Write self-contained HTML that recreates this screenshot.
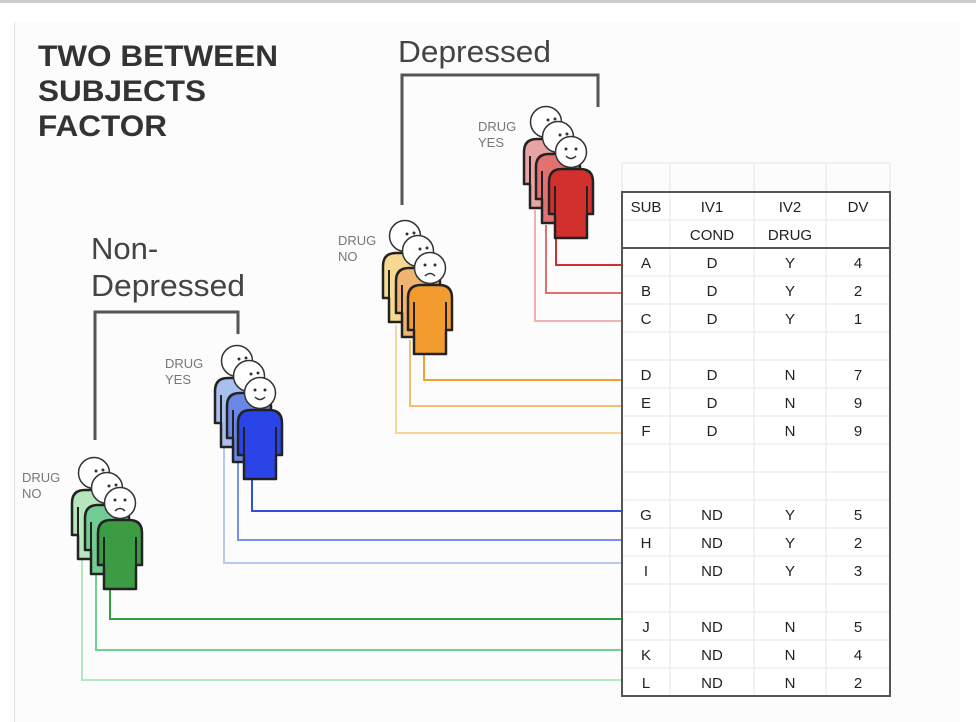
<!DOCTYPE html>
<html><head><meta charset="utf-8"><style>
html,body{margin:0;padding:0;background:#fff;}
svg{display:block;font-family:"Liberation Sans",Arial,sans-serif;}
</style></head><body>
<svg width="976" height="722" viewBox="0 0 976 722" xmlns="http://www.w3.org/2000/svg">
<defs>
<g id="body">
<path d="M-22,62 L-22,30 Q-22,17 -9,17 L9,17 Q22,17 22,30 L22,62 L16,62 L16,86 L-16,86 L-16,62 Z" stroke="#222" stroke-width="2.5" stroke-linejoin="round"/>
<path d="M-16,34 L-16,62 M16,34 L16,62" stroke="#222" stroke-width="2" fill="none"/>
</g>
<g id="head"><circle r="15.5" fill="#fff" stroke="#333" stroke-width="1.5"/></g>
</defs>
<rect x="0" y="0" width="976" height="3" fill="#ccc"/>
<rect x="15" y="22" width="945" height="700" fill="#fcfcfc"/>
<line x1="14.5" y1="22" x2="14.5" y2="722" stroke="#e2e2e2"/>
<g font-weight="bold" font-size="30" fill="#333">
<text x="38" y="66" textLength="240" lengthAdjust="spacingAndGlyphs">TWO BETWEEN</text>
<text x="38" y="101" textLength="168" lengthAdjust="spacingAndGlyphs">SUBJECTS</text>
<text x="38" y="136" textLength="129" lengthAdjust="spacingAndGlyphs">FACTOR</text>
</g>
<g font-size="31" fill="#444">
<text x="398" y="62" textLength="153" lengthAdjust="spacingAndGlyphs">Depressed</text>
<text x="91" y="259">Non-</text>
<text x="91" y="296" textLength="154" lengthAdjust="spacingAndGlyphs">Depressed</text>
</g>
<g fill="none" stroke="#555" stroke-width="3">
<path d="M402,205 L402,75 L598,75 L598,107"/>
<path d="M95,440 L95,312 L238,312 L238,334"/>
</g>
<g font-size="13" fill="#777">
<text x="478" y="131">DRUG</text><text x="478" y="147">YES</text>
<text x="338" y="245">DRUG</text><text x="338" y="261">NO</text>
<text x="165" y="368">DRUG</text><text x="165" y="384">YES</text>
<text x="22" y="482">DRUG</text><text x="22" y="498">NO</text>
</g>
<g fill="none" stroke-width="2">
<path d="M556,238 L556,265 L622,265" stroke="#d03030"/>
<path d="M546,225 L546,293 L622,293" stroke="#e07070"/>
<path d="M535,210 L535,321 L622,321" stroke="#f2b0b0"/>
<path d="M424,352 L424,380 L622,380" stroke="#f0a030"/>
<path d="M410,340 L410,406 L622,406" stroke="#f3be70"/>
<path d="M396,325 L396,433 L622,433" stroke="#f7d49a"/>
<path d="M252,476 L252,511 L622,511" stroke="#3050e0"/>
<path d="M238,462 L238,540 L622,540" stroke="#7890ee"/>
<path d="M224,448 L224,563 L622,563" stroke="#b8c8f5"/>
<path d="M110,588 L110,619 L622,619" stroke="#30a040"/>
<path d="M96,575 L96,650 L622,650" stroke="#70d090"/>
<path d="M82,560 L82,680 L622,680" stroke="#b0e8c0"/>
</g>
<g>
<g transform="translate(546,122)"><use href="#body" fill="#eaa3a3"/></g>
<g transform="translate(546,122)"><use href="#head"/><circle cx="2" cy="-2" r="1.5" fill="#333"/><circle cx="9" cy="-3" r="1.5" fill="#333"/></g>
<g transform="translate(558,137)"><use href="#body" fill="#e27272"/></g>
<g transform="translate(558,137)"><use href="#head"/><circle cx="2" cy="-2" r="1.5" fill="#333"/><circle cx="9" cy="-3" r="1.5" fill="#333"/></g>
<g transform="translate(571,152)"><use href="#body" fill="#d2302c"/><use href="#head"/><circle cx="-5" cy="-3" r="1.5" fill="#333"/><circle cx="5" cy="-3" r="1.5" fill="#333"/><path d="M-5,4 Q0,9 5,4" fill="none" stroke="#333" stroke-width="1.5"/></g>
<g transform="translate(405,236)"><use href="#body" fill="#f6da92"/></g>
<g transform="translate(405,236)"><use href="#head"/><circle cx="2" cy="-2" r="1.5" fill="#333"/><circle cx="9" cy="-3" r="1.5" fill="#333"/></g>
<g transform="translate(418,251)"><use href="#body" fill="#f0b472"/></g>
<g transform="translate(418,251)"><use href="#head"/><circle cx="2" cy="-2" r="1.5" fill="#333"/><circle cx="9" cy="-3" r="1.5" fill="#333"/></g>
<g transform="translate(430,268)"><use href="#body" fill="#f29c30"/><use href="#head"/><circle cx="-5" cy="-3" r="1.5" fill="#333"/><circle cx="5" cy="-3" r="1.5" fill="#333"/><path d="M-5,8 Q0,3 5,8" fill="none" stroke="#333" stroke-width="1.5"/></g>
<g transform="translate(237,361)"><use href="#body" fill="#a9c0ee"/></g>
<g transform="translate(237,361)"><use href="#head"/><circle cx="2" cy="-2" r="1.5" fill="#333"/><circle cx="9" cy="-3" r="1.5" fill="#333"/></g>
<g transform="translate(249,376)"><use href="#body" fill="#6a86e6"/></g>
<g transform="translate(249,376)"><use href="#head"/><circle cx="2" cy="-2" r="1.5" fill="#333"/><circle cx="9" cy="-3" r="1.5" fill="#333"/></g>
<g transform="translate(260,393)"><use href="#body" fill="#2a44e8"/><use href="#head"/><circle cx="-5" cy="-3" r="1.5" fill="#333"/><circle cx="5" cy="-3" r="1.5" fill="#333"/><path d="M-5,4 Q0,9 5,4" fill="none" stroke="#333" stroke-width="1.5"/></g>
<g transform="translate(94,473)"><use href="#body" fill="#b6e6bc"/></g>
<g transform="translate(94,473)"><use href="#head"/><circle cx="2" cy="-2" r="1.5" fill="#333"/><circle cx="9" cy="-3" r="1.5" fill="#333"/></g>
<g transform="translate(107,488)"><use href="#body" fill="#72cc92"/></g>
<g transform="translate(107,488)"><use href="#head"/><circle cx="2" cy="-2" r="1.5" fill="#333"/><circle cx="9" cy="-3" r="1.5" fill="#333"/></g>
<g transform="translate(120,503)"><use href="#body" fill="#3c9c44"/><use href="#head"/><circle cx="-5" cy="-3" r="1.5" fill="#333"/><circle cx="5" cy="-3" r="1.5" fill="#333"/><path d="M-5,8 Q0,3 5,8" fill="none" stroke="#333" stroke-width="1.5"/></g>
</g>
<rect x="622" y="192" width="268" height="504" fill="#fff"/>
<g stroke="#e4e4e4" stroke-width="1">
<line x1="622" y1="163" x2="890" y2="163"/>
<line x1="622" y1="163" x2="622" y2="192"/>
<line x1="890" y1="163" x2="890" y2="192"/>
<line x1="670" y1="163" x2="670" y2="696"/>
<line x1="754" y1="163" x2="754" y2="696"/>
<line x1="826" y1="163" x2="826" y2="696"/>
<line x1="622" y1="220" x2="890" y2="220"/>
</g>
<g stroke="#e4e4e4">
<line x1="622" y1="276" x2="890" y2="276"/><line x1="622" y1="304" x2="890" y2="304"/>
<line x1="622" y1="332" x2="890" y2="332"/><line x1="622" y1="360" x2="890" y2="360"/>
<line x1="622" y1="388" x2="890" y2="388"/><line x1="622" y1="416" x2="890" y2="416"/>
<line x1="622" y1="444" x2="890" y2="444"/><line x1="622" y1="472" x2="890" y2="472"/>
<line x1="622" y1="500" x2="890" y2="500"/><line x1="622" y1="528" x2="890" y2="528"/>
<line x1="622" y1="556" x2="890" y2="556"/><line x1="622" y1="584" x2="890" y2="584"/>
<line x1="622" y1="612" x2="890" y2="612"/><line x1="622" y1="640" x2="890" y2="640"/>
<line x1="622" y1="668" x2="890" y2="668"/>
</g>
<rect x="622" y="192" width="268" height="504" fill="none" stroke="#555" stroke-width="2"/>
<line x1="622" y1="248" x2="890" y2="248" stroke="#555" stroke-width="2"/>
<g font-size="15" fill="#222" text-anchor="middle">
<text x="646" y="212">SUB</text><text x="712" y="212">IV1</text><text x="790" y="212">IV2</text><text x="858" y="212">DV</text>
<text x="712" y="240">COND</text><text x="790" y="240">DRUG</text>
<text x="646" y="268">A</text><text x="712" y="268">D</text><text x="790" y="268">Y</text><text x="858" y="268">4</text>
<text x="646" y="296">B</text><text x="712" y="296">D</text><text x="790" y="296">Y</text><text x="858" y="296">2</text>
<text x="646" y="324">C</text><text x="712" y="324">D</text><text x="790" y="324">Y</text><text x="858" y="324">1</text>
<text x="646" y="380">D</text><text x="712" y="380">D</text><text x="790" y="380">N</text><text x="858" y="380">7</text>
<text x="646" y="408">E</text><text x="712" y="408">D</text><text x="790" y="408">N</text><text x="858" y="408">9</text>
<text x="646" y="436">F</text><text x="712" y="436">D</text><text x="790" y="436">N</text><text x="858" y="436">9</text>
<text x="646" y="520">G</text><text x="712" y="520">ND</text><text x="790" y="520">Y</text><text x="858" y="520">5</text>
<text x="646" y="548">H</text><text x="712" y="548">ND</text><text x="790" y="548">Y</text><text x="858" y="548">2</text>
<text x="646" y="576">I</text><text x="712" y="576">ND</text><text x="790" y="576">Y</text><text x="858" y="576">3</text>
<text x="646" y="632">J</text><text x="712" y="632">ND</text><text x="790" y="632">N</text><text x="858" y="632">5</text>
<text x="646" y="660">K</text><text x="712" y="660">ND</text><text x="790" y="660">N</text><text x="858" y="660">4</text>
<text x="646" y="688">L</text><text x="712" y="688">ND</text><text x="790" y="688">N</text><text x="858" y="688">2</text>
</g>
</svg>
</body></html>
